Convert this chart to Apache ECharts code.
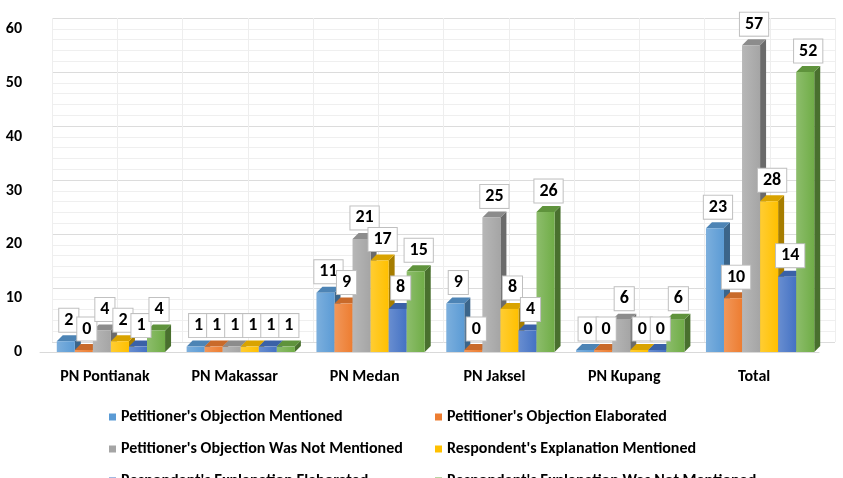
<!DOCTYPE html>
<html>
<head>
<meta charset="utf-8">
<script src="https://cdn.jsdelivr.net/npm/echarts@6/dist/echarts.min.js"></script>
<style>
html,body{margin:0;padding:0;background:#fff;}
#main{width:843px;height:478px;}
</style>
</head>
<body>
<div id="main"></div>
<script>
var categories = ['PN Pontianak', 'PN Makassar', 'PN Medan', 'PN Jaksel', 'PN Kupang', 'Total'];
var seriesNames = ["Petitioner's Objection Mentioned", "Petitioner's Objection Elaborated",
	"Petitioner's Objection Was Not Mentioned", "Respondent's Explanation Mentioned",
	"Respondent's Explanation Elaborated", "Respondent's Explanation Was Not Mentioned"];
var objMentioned    = [2, 1, 11, 9, 0, 23];
var objElaborated   = [0, 1, 9, 0, 0, 10];
var objNotMentioned = [4, 1, 21, 25, 6, 57];
var expMentioned    = [2, 1, 17, 8, 0, 28];
var expElaborated   = [1, 1, 8, 4, 0, 14];
var expNotMentioned = [4, 1, 15, 26, 6, 52];
var yTicks = [0, 10, 20, 30, 40, 50, 60];

var allValues = [objMentioned, objElaborated, objNotMentioned, expMentioned, expElaborated, expNotMentioned];
var colors = ['#5B9BD5', '#ED7D31', '#A5A5A5', '#FFC000', '#4472C4', '#70AD47'];
var FONT = 'Carlito, "Liberation Sans", sans-serif';

function shade(hex, f){
	var n = parseInt(hex.slice(1), 16);
	var r = (n >> 16) & 255, g = (n >> 8) & 255, b = n & 255;
	function c(v){ return Math.max(0, Math.min(255, Math.round(f < 0 ? v * (1 + f) : v + (255 - v) * f))); }
	return 'rgb(' + c(r) + ',' + c(g) + ',' + c(b) + ')';
}

var DEPTH = 6;
function barGeom(api, si){
	var cat = api.value(0), val = api.value(1);
	var base = api.coord([cat, 0]);
	var top = api.coord([cat, val]);
	var band = api.size([1, 0])[0];
	var w = band * 0.139;
	var x0 = base[0] + (si - 3) * w + 6;
	var yTop = Math.min(top[1], base[1] - 2);
	return {x0: x0, x1: x0 + w, yb: base[1], yt: yTop, w: w};
}

var series = [];
allValues.forEach(function(vals, si){
	var col = colors[si];
	series.push({
		type: 'custom',
		name: seriesNames[si],
		xAxisIndex: 1, yAxisIndex: 1,
		itemStyle: {color: col},
		encode: {x: 0, y: 1},
		data: vals.map(function(v, i){ return [i, v]; }),
		renderItem: function(params, api){
			var g = barGeom(api, si);
			var d = DEPTH;
			return {
				type: 'group',
				children: [
					{type: 'polygon', shape: {points: [[g.x1, g.yt], [g.x1 + d, g.yt - d], [g.x1 + d, g.yb - d], [g.x1, g.yb]]},
						style: {fill: shade(col, -0.35)}},
					{type: 'polygon', shape: {points: [[g.x0, g.yt], [g.x0 + d, g.yt - d], [g.x1 + d, g.yt - d], [g.x1, g.yt]]},
						style: {fill: shade(col, -0.15)}},
					{type: 'rect', shape: {x: g.x0, y: g.yt, width: g.w, height: g.yb - g.yt},
						style: {fill: new echarts.graphic.LinearGradient(0, 0, 1, 0, [
							{offset: 0, color: shade(col, 0.2)}, {offset: 1, color: col}])}}
				]
			};
		}
	});
});

// value labels (drawn last so they sit over the bars)
var labelData = [];
allValues.forEach(function(vals, si){
	vals.forEach(function(v, i){ labelData.push([i, v, si]); });
});
series.push({
	type: 'custom',
	xAxisIndex: 1, yAxisIndex: 1,
	z: 10,
	silent: true,
	encode: {x: 0, y: 1},
	data: labelData,
	renderItem: function(params, api){
		var si = api.value(2);
		var g = barGeom(api, si);
		return {
			type: 'text',
			style: {
				text: String(api.value(1)),
				x: (g.x0 + g.x1) / 2 + DEPTH / 2,
				y: g.yt - DEPTH - 15,
				align: 'center', verticalAlign: 'middle',
				font: 'bold 18px ' + FONT,
				fill: '#000',
				backgroundColor: '#fff',
				borderColor: '#bfbfbf',
				borderWidth: 1,
				padding: [3, 5, 2, 5]
			}
		};
	}
});

var legendPos = [[104, 404], [430, 404], [104, 436], [430, 436], [104, 468], [430, 468]];
var legends = seriesNames.map(function(n, i){
	return {
		data: [n], left: legendPos[i][0], top: legendPos[i][1],
		icon: 'rect', itemWidth: 7, itemHeight: 7, itemGap: 0,
		selectedMode: false,
		textStyle: {fontFamily: FONT, fontWeight: 'bold', fontSize: 16, color: '#000', padding: [0, 0, 0, 0]}
	};
});

var option = {
	backgroundColor: '#fff',
	animation: false,
	legend: legends,
	grid: [
		{left: 52, right: 8, top: 18, bottom: 136},
		{left: 40, right: 24, top: 29, bottom: 126}
	],
	xAxis: [
		{gridIndex: 0, type: 'value', min: 0, max: 12, interval: 1,
			axisLine: {show: false}, axisTick: {show: false}, axisLabel: {show: false},
			splitLine: {show: true, lineStyle: {color: '#eeeeee'}}},
		{gridIndex: 1, type: 'category', data: categories,
			axisLine: {show: true, lineStyle: {color: '#d9d9d9'}}, axisTick: {show: false},
			axisLabel: {margin: 17, color: '#000', fontFamily: FONT, fontWeight: 'bold', fontSize: 16}}
	],
	yAxis: [
		{gridIndex: 0, type: 'value', min: 0, max: 60, interval: 10,
			axisLine: {show: false}, axisTick: {show: false}, axisLabel: {show: false},
			splitLine: {show: true, lineStyle: {color: '#dcdcdc'}},
			minorTick: {show: false, splitNumber: 5},
			minorSplitLine: {show: true, lineStyle: {color: '#efefef'}}},
		{gridIndex: 1, type: 'value', min: yTicks[0], max: yTicks[yTicks.length - 1], interval: 10,
			axisLine: {show: false}, axisTick: {show: false}, splitLine: {show: false},
			axisLabel: {margin: 18, color: '#000', fontFamily: FONT, fontWeight: 'bold', fontSize: 16}}
	],
	series: series
};

var chart = echarts.init(document.getElementById('main'));
chart.setOption(option);
</script>
</body>
</html>
